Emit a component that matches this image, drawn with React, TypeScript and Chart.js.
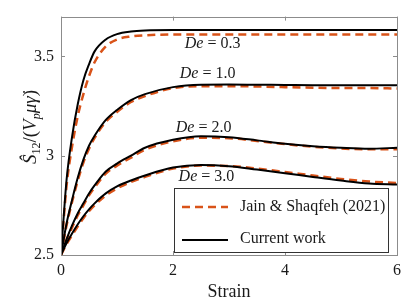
import React, { useEffect, useRef } from "react";
import { Chart, registerables } from "chart.js";

Chart.register(...registerables);

const strain = [0, 0.1, 0.2, 0.3, 0.4, 0.5, 0.6, 0.8, 1.0, 1.25, 1.5, 2, 2.5, 3, 3.5, 4, 4.5, 5, 5.5, 6];

const current03 = [2.5, 2.88, 3.1, 3.26, 3.38, 3.46, 3.525, 3.585, 3.612, 3.625, 3.63, 3.632, 3.632, 3.632, 3.632, 3.632, 3.632, 3.632, 3.632, 3.632];
const jain03 = [2.5, 2.85, 3.05, 3.2, 3.31, 3.4, 3.47, 3.55, 3.585, 3.6, 3.606, 3.61, 3.61, 3.61, 3.61, 3.61, 3.61, 3.61, 3.61, 3.61];

const current10 = [2.5, 2.66, 2.78, 2.89, 2.98, 3.05, 3.1, 3.18, 3.23, 3.28, 3.31, 3.345, 3.357, 3.358, 3.357, 3.356, 3.355, 3.355, 3.355, 3.355];
const jain10 = [2.5, 2.65, 2.77, 2.875, 2.965, 3.035, 3.09, 3.17, 3.22, 3.27, 3.3, 3.34, 3.35, 3.35, 3.348, 3.345, 3.342, 3.34, 3.34, 3.338];

const current20 = [2.5, 2.58, 2.65, 2.71, 2.76, 2.81, 2.85, 2.92, 2.96, 3.0, 3.04, 3.08, 3.098, 3.093, 3.077, 3.06, 3.048, 3.04, 3.035, 3.04];
const jain20 = [2.5, 2.575, 2.64, 2.7, 2.75, 2.8, 2.84, 2.91, 2.95, 2.99, 3.03, 3.072, 3.09, 3.088, 3.074, 3.058, 3.045, 3.036, 3.032, 3.032];

const current30 = [2.5, 2.56, 2.61, 2.655, 2.695, 2.73, 2.76, 2.81, 2.845, 2.875, 2.9, 2.94, 2.953, 2.947, 2.93, 2.912, 2.893, 2.875, 2.86, 2.855];
const jain30 = [2.5, 2.555, 2.6, 2.645, 2.685, 2.72, 2.75, 2.8, 2.835, 2.868, 2.893, 2.935, 2.95, 2.948, 2.935, 2.918, 2.9, 2.883, 2.87, 2.862];

const xTicks = [0, 2, 4, 6];
const yTicks = [2.5, 3, 3.5];
const deLabels = ["0.3", "1.0", "2.0", "3.0"];
const deLabelPos = [
  [2.21, 3.54],
  [2.12, 3.39],
  [2.05, 3.118],
  [2.1, 2.873],
];
const legendLabels = ["Jain & Shaqfeh (2021)", "Current work"];

const ORANGE = "#D95319";
const SERIF = "'Liberation Serif', 'DejaVu Serif', serif";

function pts(ys: number[]) {
  return strain.map((x, i) => ({ x, y: ys[i] }));
}

export default function App() {
  const ref = useRef<HTMLCanvasElement | null>(null);
  useEffect(() => {
    document.body.style.margin = "0";
    const canvas = ref.current!;
    const currents = [current03, current10, current20, current30];
    const jains = [jain03, jain10, jain20, jain30];
    const datasets: any[] = [];
    currents.forEach((c, i) => {
      datasets.push({
        label: "cur" + i,
        data: pts(c),
        borderColor: "#000",
        borderWidth: 2,
        pointRadius: 0,
        cubicInterpolationMode: "monotone",
        fill: false,
      });
    });
    jains.forEach((c, i) => {
      datasets.push({
        label: "jain" + i,
        data: pts(c),
        borderColor: ORANGE,
        borderWidth: 2.5,
        borderDash: [8, 5],
        pointRadius: 0,
        cubicInterpolationMode: "monotone",
        fill: false,
      });
    });

    const deco = {
      id: "deco",
      afterDraw(chart: any) {
        const ctx = chart.ctx as CanvasRenderingContext2D;
        const { left, right, top, bottom } = chart.chartArea;
        const xs = chart.scales.x;
        const ys = chart.scales.y;
        ctx.save();
        // box
        ctx.strokeStyle = "#8c8c8c";
        ctx.lineWidth = 1;
        ctx.strokeRect(Math.round(left) + 0.5, Math.round(top) + 0.5, Math.round(right - left), Math.round(bottom - top));
        // ticks
        ctx.beginPath();
        xTicks.forEach((v) => {
          const px = Math.round(xs.getPixelForValue(v)) + 0.5;
          ctx.moveTo(px, bottom);
          ctx.lineTo(px, bottom - 4);
          ctx.moveTo(px, top);
          ctx.lineTo(px, top + 4);
        });
        yTicks.forEach((v) => {
          const py = Math.round(ys.getPixelForValue(v)) + 0.5;
          ctx.moveTo(left, py);
          ctx.lineTo(left + 4, py);
          ctx.moveTo(right, py);
          ctx.lineTo(right - 4, py);
        });
        ctx.stroke();

        // De labels
        ctx.fillStyle = "#1a1a1a";
        ctx.textBaseline = "alphabetic";
        ctx.textAlign = "left";
        deLabels.forEach((t, i) => {
          let px = xs.getPixelForValue(deLabelPos[i][0]);
          const py = ys.getPixelForValue(deLabelPos[i][1]);
          ctx.font = "italic 16px " + SERIF;
          ctx.fillText("De", px, py);
          px += ctx.measureText("De").width;
          ctx.font = "16px " + SERIF;
          ctx.fillText(" = " + t, px, py);
        });

        // legend
        const lx = 174, ly = 188, lw = 214, lh = 64;
        ctx.fillStyle = "#fff";
        ctx.fillRect(lx, ly, lw, lh);
        ctx.strokeStyle = "#333";
        ctx.lineWidth = 1;
        ctx.strokeRect(lx + 0.5, ly + 0.5, lw, lh);
        ctx.lineWidth = 2.5;
        ctx.strokeStyle = ORANGE;
        ctx.setLineDash([8, 5]);
        ctx.beginPath();
        ctx.moveTo(182, 207);
        ctx.lineTo(228, 207);
        ctx.stroke();
        ctx.setLineDash([]);
        ctx.lineWidth = 2;
        ctx.strokeStyle = "#000";
        ctx.beginPath();
        ctx.moveTo(182, 240);
        ctx.lineTo(228, 240);
        ctx.stroke();
        ctx.fillStyle = "#1a1a1a";
        ctx.font = "16px " + SERIF;
        ctx.textBaseline = "middle";
        ctx.fillText(legendLabels[0], 240, 207);
        ctx.fillText(legendLabels[1], 240, 239);

        // x title
        ctx.textAlign = "center";
        ctx.textBaseline = "middle";
        ctx.font = "18px " + SERIF;
        ctx.fillText("Strain", (left + right) / 2, 292);

        // y title (rotated)
        ctx.save();
        ctx.translate(30, 127);
        ctx.rotate(-Math.PI / 2);
        const segs: [string, string, number][] = [
          ["Ŝ", "italic 19px", 0],
          ["12", "12px", 4],
          ["/(", "19px", 0],
          ["V", "italic 19px", 0],
          ["p", "italic 12px", 4],
          ["μ", "italic 19px", 0],
          ["γ̇", "italic 19px", 0],
          [")", "19px", 0],
        ];
        let w = 0;
        segs.forEach(([t, f]) => {
          ctx.font = f + " " + SERIF;
          w += ctx.measureText(t).width;
        });
        let cx = -w / 2;
        ctx.textAlign = "left";
        ctx.textBaseline = "alphabetic";
        segs.forEach(([t, f, dy]) => {
          ctx.font = f + " " + SERIF;
          ctx.fillText(t, cx, 6 + dy);
          cx += ctx.measureText(t).width;
        });
        ctx.restore();
        ctx.restore();
      },
    };

    const chart = new Chart(canvas, {
      type: "line",
      data: { datasets },
      options: {
        animation: false,
        responsive: false,
        maintainAspectRatio: false,
        layout: { padding: { top: 10, right: 9, left: 0, bottom: 0 } },
        plugins: { legend: { display: false }, tooltip: { enabled: false } },
        scales: {
          x: {
            type: "linear",
            min: 0,
            max: 6,
            afterBuildTicks: (s: any) => {
              s.ticks = xTicks.map((v) => ({ value: v }));
            },
            afterFit: (s: any) => {
              s.height = 50;
            },
            grid: { display: false, drawTicks: false },
            border: { display: false },
            ticks: { font: { family: SERIF, size: 16 }, color: "#1a1a1a", padding: 6, maxRotation: 0 },
          },
          y: {
            type: "linear",
            min: 2.5,
            max: 3.7,
            afterBuildTicks: (s: any) => {
              s.ticks = yTicks.map((v) => ({ value: v }));
            },
            afterFit: (s: any) => {
              s.width = 61;
            },
            grid: { display: false, drawTicks: false },
            border: { display: false },
            ticks: {
              font: { family: SERIF, size: 16 },
              color: "#1a1a1a",
              padding: 7,
              callback: (v: any) => String(v),
            },
          },
        },
      },
      plugins: [deco],
    });
    return () => chart.destroy();
  }, []);
  return <canvas ref={ref} width={407} height={305} style={{ display: "block" }} />;
}
